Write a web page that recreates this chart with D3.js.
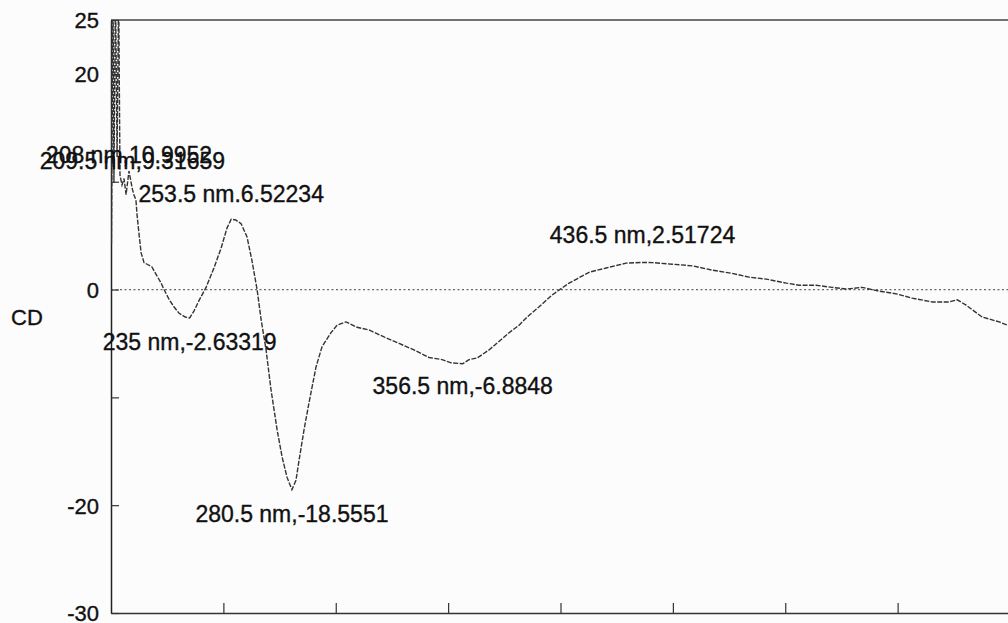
<!DOCTYPE html>
<html>
<head>
<meta charset="utf-8">
<script src="https://cdn.jsdelivr.net/npm/d3@7"></script>
<style>
  html, body { margin: 0; padding: 0; background: #fcfcfc; }
  svg { display: block; }
  text { font-family: "Liberation Sans", Arial, sans-serif; fill: #111; stroke: #111; stroke-width: 0.35px; }
</style>
</head>
<body>
<svg id="chart" width="1008" height="623"></svg>
<script>
// ---- data ----
const wavelength = [200, 200.2, 200.9, 201.3, 202, 202.7, 203.4, 204, 204.9, 205.8, 206.7, 208, 209.5, 210.2, 211.1, 211.6, 212.5, 213.4, 214.7, 216.5, 218.2, 220.5, 222.3, 223.6, 225.8, 228, 230.3, 233, 235, 236.9, 239.2, 242.3, 245.8, 249, 251.6, 253.5, 255.5, 257.9, 260.5, 262.7, 265, 266.8, 269, 271.2, 273.9, 276.1, 278.3, 280.5, 282.3, 283.7, 285.9, 288.1, 291.2, 293.9, 297.9, 300.6, 304.6, 309.5, 314.8, 321.5, 328.2, 334.8, 341.5, 347.3, 351.3, 356.5, 359.3, 362.9, 368.2, 371.8, 377.1, 381.6, 385.1, 390.5, 396.3, 400.7, 403.8, 407.4, 412.7, 420.3, 429.2, 436.5, 440.8, 449.7, 458.6, 467.5, 476.4, 483.9, 491.5, 500.4, 506.2, 513.7, 520.9, 527.1, 534.2, 541.8, 549.4, 556.5, 565.4, 572.9, 576.5, 580.5, 587.6, 595.2, 600];
const cdValue = [28, 4.3, 28, 9.9, 28, 12.3, 28, 10.6, 9.7, 10.3, 8.8, 10.9952, 9.3166, 8.8, 8.3, 6.9, 5.1, 3.4, 2.5, 2.3, 2.1, 1.25, 0.6, 0, -0.9, -1.6, -2.2, -2.55, -2.6332, -2.0, -1.0, 0.2, 2.0, 3.85, 5.7, 6.5223, 6.45, 6.1, 4.9, 2.7, 0, -2.8, -5.6, -9.3, -13.0, -15.5, -17.4, -18.5551, -17.7, -15.8, -13.0, -10.5, -7.2, -5.3, -4.0, -3.3, -3.0, -3.5, -3.75, -4.4, -5.0, -5.6, -6.3, -6.5, -6.8, -6.8848, -6.5, -6.35, -5.6, -4.96, -4.0, -3.3, -2.55, -1.6, -0.5, 0.15, 0.6, 1.0, 1.6, 2.0, 2.45, 2.5172, 2.5, 2.35, 2.2, 1.8, 1.5, 1.15, 0.97, 0.6, 0.4, 0.4, 0.2, 0.05, 0.2, -0.15, -0.4, -0.8, -1.15, -1.15, -0.95, -1.45, -2.55, -3.0, -3.4];

const peakNm    = [208, 209.5, 253.5, 235, 280.5, 356.5, 436.5];
const peakCd    = [10.9952, 9.31659, 6.52234, -2.63319, -18.5551, -6.8848, 2.51724];
const peakLabel = ["208 nm,10.9952", "209.5 nm,9.31659", "253.5 nm.6.52234", "235 nm,-2.63319", "280.5 nm,-18.5551", "356.5 nm,-6.8848", "436.5 nm,2.51724"];

const yTickValues = [25, 20, 10, 0, -10, -20, -30];
const yTickLabels = ["25", "20", "", "0", "", "-20", "-30"];
const xTickValues = [250, 300, 350, 400, 450, 500, 550];
const yTitle = "CD";

// ---- layout ----
const plotL = 111, plotR = 1010, plotT = 20, plotB = 613;
const labelDy = [-8, -20, -17, 32, 32, 30, -19];

const svg = d3.select("#chart");
const x = d3.scaleLinear().domain([200, 600]).range([plotL, plotR]);
const y = d3.scaleLinear().domain([-30, 25]).range([plotB, plotT]);

svg.append("defs").append("clipPath").attr("id", "plotclip")
  .append("rect").attr("x", plotL).attr("y", plotT)
  .attr("width", plotR - plotL).attr("height", plotB - plotT);

// top border
svg.append("line").attr("x1", plotL).attr("x2", 1008).attr("y1", plotT).attr("y2", plotT)
  .attr("stroke", "#444").attr("stroke-width", 1.3);

// zero line (dotted)
svg.append("line").attr("x1", plotL).attr("x2", 1008).attr("y1", y(0)).attr("y2", y(0))
  .attr("stroke", "#666").attr("stroke-width", 1.2).attr("stroke-dasharray", "2,2.5");

// y axis
const yAxis = d3.axisLeft(y).tickValues(yTickValues)
  .tickFormat((d, i) => yTickLabels[i]).tickSizeInner(-8).tickSizeOuter(0).tickPadding(12);
const gy = svg.append("g").attr("transform", `translate(${plotL},0)`).call(yAxis);
gy.select(".domain").attr("stroke", "#222").attr("stroke-width", 1.5);
gy.selectAll(".tick line").attr("stroke", "#333").attr("stroke-width", 1.2);
gy.selectAll(".tick text").attr("font-size", 22).attr("dy", "0.36em")
  .style("font-family", '"Liberation Sans", Arial, sans-serif').attr("fill", "#111");

// x axis (ticks only, no labels)
const xAxis = d3.axisBottom(x).tickValues(xTickValues)
  .tickFormat("").tickSizeInner(-10).tickSizeOuter(0);
const gx = svg.append("g").attr("transform", `translate(0,${plotB})`).call(xAxis);
gx.select(".domain").attr("stroke", "#333").attr("stroke-width", 1.3);
gx.selectAll(".tick line").attr("stroke", "#333").attr("stroke-width", 1.2);

// y title
svg.append("text").attr("x", 27).attr("y", 325).attr("text-anchor", "middle")
  .attr("font-size", 22).text(yTitle);

// curve
const pts = wavelength.map((w, i) => [w, cdValue[i]]);
const line = d3.line().x(d => x(d[0])).y(d => y(d[1]));
svg.append("path").datum(pts).attr("clip-path", "url(#plotclip)")
  .attr("d", line).attr("fill", "none").attr("stroke", "#333")
  .attr("stroke-width", 1.4).attr("stroke-dasharray", "5,1.5");

// peak labels
svg.selectAll("text.peak").data(peakNm).enter().append("text")
  .attr("class", "peak")
  .attr("x", (d) => x(d))
  .attr("y", (d, i) => y(peakCd[i]) + labelDy[i])
  .attr("text-anchor", "middle")
  .attr("font-size", 23)
  .text((d, i) => peakLabel[i]);
</script>
</body>
</html>
